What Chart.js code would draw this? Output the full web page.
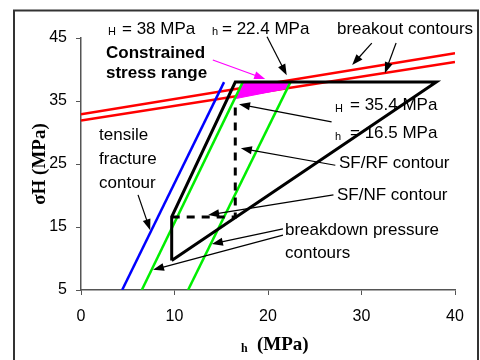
<!DOCTYPE html>
<html>
<head>
<meta charset="utf-8">
<script src="https://cdn.jsdelivr.net/npm/chart.js@4.4.1/dist/chart.umd.min.js"></script>
<style>
  html, body { margin: 0; padding: 0; background: #fff; }
  #myChart { display: block; }
</style>
</head>
<body>
<canvas id="myChart" width="480" height="360"></canvas>
<script>
// 축 눈금
const xTicks = [0, 10, 20, 30, 40];
const yTicks = [5, 15, 25, 35, 45];

// 곡선 데이터 (σh, σH)
const upperBreakout = [[0, 32.9], [40, 42.6]];
const lowerBreakout = [[0, 31.9], [40, 41.2]];
const tensileFracture = [[4.4, 5], [15.3, 38]];
const breakdownLeft = [[6.5, 5], [17.3, 38]];
const breakdownRight = [[11.45, 5], [22.4, 38]];
const stressPolygon = [[9.7, 9.7], [9.7, 16.6], [16.5, 38], [38, 38], [9.7, 9.7]];
const dashedBounds = [[9.7, 16.6], [16.5, 16.6], [16.5, 34]];
const constrainedRange = [[17.3, 38], [22.4, 38], [22.1, 37.0], [16.6, 35.4], [17.3, 38]];

// 화살표 (꼬리 -> 머리), 데이터 좌표
const arrows = [
  { from: [19.9, 45.2], to: [22.0, 39.1], color: '#000' },
  { from: [31.1, 44.2], to: [29.0, 40.7], color: '#000' },
  { from: [33.7, 44.2], to: [32.5, 39.4], color: '#000' },
  { from: [14.1, 41.5], to: [19.7, 38.5], color: '#ff00ff' },
  { from: [26.8, 31.7], to: [16.9, 34.5], color: '#000' },
  { from: [27.2, 24.8], to: [17.1, 27.5], color: '#000' },
  { from: [27.0, 20.1], to: [13.6, 16.9], color: '#000' },
  { from: [21.6, 14.7], to: [14.0, 12.3], color: '#000' },
  { from: [21.6, 13.7], to: [7.7, 8.2], color: '#000' },
  { from: [6.1, 20.1], to: [7.4, 14.5], color: '#000' }
];

const toXY = arr => arr.map(p => ({ x: p[0], y: p[1] }));

function lineSet(pts, color, width, extra) {
  return Object.assign({
    data: toXY(pts),
    showLine: true,
    borderColor: color,
    borderWidth: width,
    pointRadius: 0,
    fill: false
  }, extra || {});
}

const SANS = '"Liberation Sans", Arial, sans-serif';
const SERIF = '"Liberation Serif", "Times New Roman", serif';

function drawArrow(ctx, x1, y1, x2, y2, color) {
  const ang = Math.atan2(y2 - y1, x2 - x1);
  const len = 11, half = 4;
  ctx.strokeStyle = color;
  ctx.fillStyle = color;
  ctx.lineWidth = 1.2;
  ctx.beginPath();
  ctx.moveTo(x1, y1);
  ctx.lineTo(x2 - Math.cos(ang) * len * 0.8, y2 - Math.sin(ang) * len * 0.8);
  ctx.stroke();
  ctx.beginPath();
  ctx.moveTo(x2, y2);
  ctx.lineTo(x2 - Math.cos(ang) * len - Math.sin(ang) * half, y2 - Math.sin(ang) * len + Math.cos(ang) * half);
  ctx.lineTo(x2 - Math.cos(ang) * len + Math.sin(ang) * half, y2 - Math.sin(ang) * len - Math.cos(ang) * half);
  ctx.closePath();
  ctx.fill();
}

function subLabel(ctx, sub, main, x, subBase, mainBase, mainX) {
  ctx.font = '11px ' + SANS;
  ctx.fillText(sub, x, subBase);
  ctx.font = '17px ' + SANS;
  ctx.fillText(main, mainX, mainBase);
}

const annotations = {
  id: 'annotations',
  afterDraw(chart) {
    const ctx = chart.ctx;
    const xs = chart.scales.x, ys = chart.scales.y;
    ctx.save();

    // 바깥 테두리
    ctx.strokeStyle = '#333';
    ctx.lineWidth = 2;
    ctx.strokeRect(14, 10.5, 464, 360);

    // 화살표
    arrows.forEach(a => {
      drawArrow(ctx,
        xs.getPixelForValue(a.from[0]), ys.getPixelForValue(a.from[1]),
        xs.getPixelForValue(a.to[0]), ys.getPixelForValue(a.to[1]), a.color);
    });

    ctx.fillStyle = '#000';
    ctx.textAlign = 'left';
    ctx.textBaseline = 'alphabetic';

    subLabel(ctx, 'H', '= 38 MPa', 108, 35, 34, 122);
    subLabel(ctx, 'h', '= 22.4 MPa', 212, 35, 34, 222);
    subLabel(ctx, 'H', '= 35.4 MPa', 335, 112, 110, 350);
    subLabel(ctx, 'h', '= 16.5 MPa', 335, 140, 138, 350);

    ctx.font = '17px ' + SANS;
    ctx.fillText('breakout contours', 337, 34);
    ctx.fillText('SF/RF contour', 339, 168);
    ctx.fillText('SF/NF contour', 337, 200);
    ctx.fillText('breakdown pressure', 285, 235);
    ctx.fillText('contours', 285, 258);
    ctx.fillText('tensile', 99, 140);
    ctx.fillText('fracture', 99, 164);
    ctx.fillText('contour', 99, 188);

    ctx.font = 'bold 17px ' + SANS;
    ctx.fillText('Constrained', 106, 58);
    ctx.fillText('stress range', 106, 78);

    // 축 제목
    ctx.font = 'bold 12px ' + SERIF;
    ctx.fillText('h', 241, 352);
    ctx.font = 'bold 19px ' + SERIF;
    ctx.fillText('(MPa)', 257, 350);

    ctx.translate(45, 164);
    ctx.rotate(-Math.PI / 2);
    ctx.textAlign = 'center';
    ctx.fillText('\u03C3H (MPa)', 0, 0);
    ctx.restore();
  }
};

const ctx = document.getElementById('myChart').getContext('2d');
new Chart(ctx, {
  type: 'scatter',
  data: {
    datasets: [
      lineSet(stressPolygon, '#000', 3, { order: 1 }),
      lineSet(dashedBounds, '#000', 3, { order: 2, borderDash: [8, 7] }),
      lineSet(breakdownLeft, '#00ee00', 2.5, { order: 3 }),
      lineSet(breakdownRight, '#00ee00', 2.5, { order: 4 }),
      lineSet(tensileFracture, '#0000ff', 2.5, { order: 5 }),
      lineSet(constrainedRange, '#ff00ff', 1, { order: 6, fill: 'shape', backgroundColor: '#ff00ff' }),
      lineSet(upperBreakout, '#ff0000', 2.5, { order: 7 }),
      lineSet(lowerBreakout, '#ff0000', 2.5, { order: 8 })
    ]
  },
  options: {
    responsive: false,
    animation: false,
    devicePixelRatio: 1,
    layout: { padding: { left: 0, top: 38, right: 25, bottom: 0 } },
    plugins: {
      legend: { display: false },
      tooltip: { enabled: false }
    },
    scales: {
      x: {
        type: 'linear',
        min: 0,
        max: 40,
        afterBuildTicks: scale => { scale.ticks = xTicks.map(v => ({ value: v })); },
        afterFit: scale => { scale.height = 70; },
        grid: { drawOnChartArea: false, tickLength: 5, color: '#555' },
        border: { color: '#555', width: 1.5 },
        ticks: { color: '#000', font: { family: SANS, size: 16 }, padding: 12 }
      },
      y: {
        type: 'linear',
        min: 5,
        max: 45,
        afterBuildTicks: scale => { scale.ticks = yTicks.map(v => ({ value: v })); },
        afterFit: scale => { scale.width = 81; },
        grid: { drawOnChartArea: false, tickLength: 5, color: '#555' },
        border: { color: '#555', width: 1.5 },
        ticks: { color: '#000', font: { family: SANS, size: 16 }, padding: 9 }
      }
    }
  },
  plugins: [annotations]
});
</script>
</body>
</html>
